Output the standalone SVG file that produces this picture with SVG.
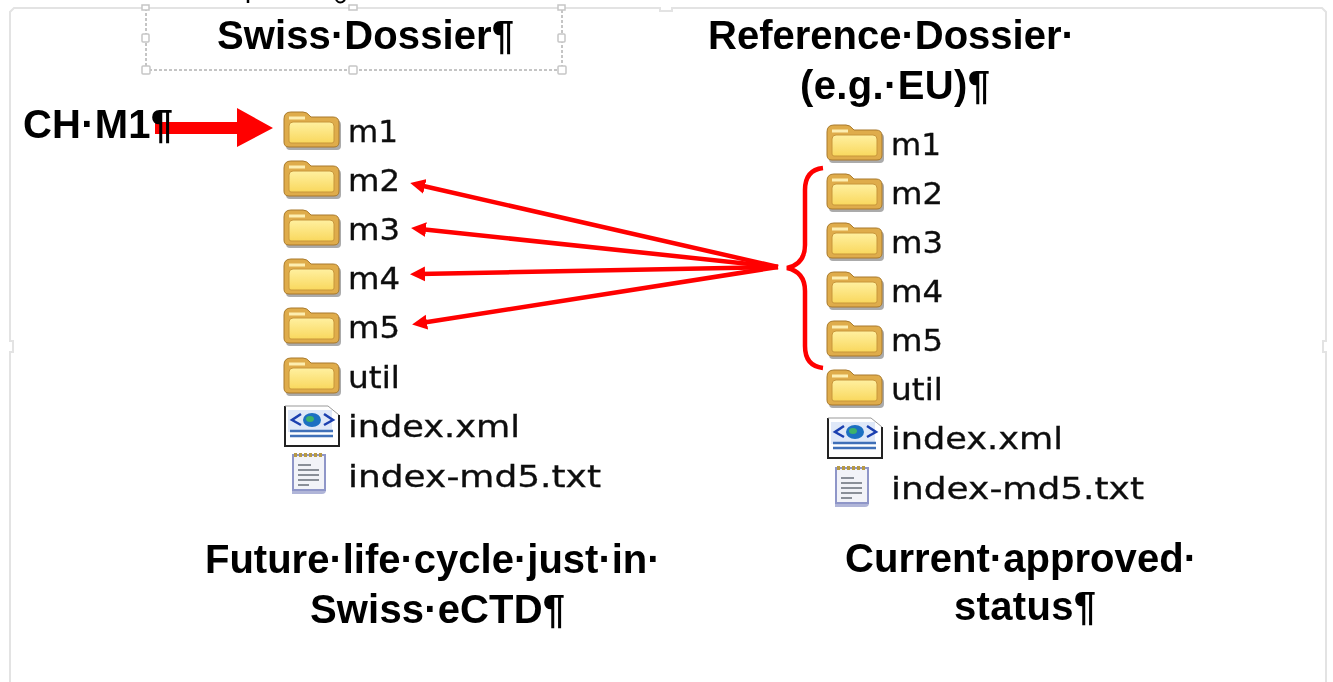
<svg xmlns="http://www.w3.org/2000/svg" width="1333" height="682" viewBox="0 0 1333 682">
<style>
.h{font-family:"Liberation Sans",Arial,sans-serif;font-weight:700;font-size:40px;fill:#000}
.f{font-family:"DejaVu Sans",Verdana,sans-serif;font-size:31px;fill:#111;stroke:#111;stroke-width:.35}
.frame{fill:none;stroke:#e3e3e3;stroke-width:2}
.dash{fill:none;stroke:#8a8a8a;stroke-width:1;stroke-dasharray:3 2}
.hd{fill:#fff;stroke:#c6c6c6;stroke-width:1.5}
.red{stroke:#f00;fill:none;stroke-width:4.5}
</style>
<defs>
<linearGradient id="fg" x1="0" y1="0" x2="0" y2="1"><stop offset="0" stop-color="#fff0a0"/><stop offset="1" stop-color="#f9d85e"/></linearGradient>
<filter id="soft" x="-5%" y="-5%" width="110%" height="110%"><feGaussianBlur stdDeviation="0.7"/></filter>
<filter id="softer" x="-5%" y="-5%" width="110%" height="110%"><feGaussianBlur stdDeviation="0.4"/></filter>
<marker id="ah" markerUnits="userSpaceOnUse" markerWidth="16" markerHeight="16" refX="6" refY="8" orient="auto"><path d="M0 0.5L15 8L0 15.5Z" fill="#f00" transform="translate(15 0) scale(-1 1) translate(0 0) scale(-1 1) translate(-15 0)"/></marker>
<symbol id="folder" overflow="visible">
<path d="M4 36Q0 36 0 32V6Q0 1 5 1H19Q23 1 26 5L27 6H50Q55 6 55 11V32Q55 36 51 36Z" fill="#444" opacity=".45" transform="translate(2 2)"/>
<path d="M5 35Q0 35 0 30V7Q0 0 7 0H19Q23 0 26 4L27 5H49Q55 5 55 11V30Q55 35 50 35Z" fill="#dfac4b" stroke="#a9792a" stroke-width="1"/>
<path d="M5 14Q5 10 9 10H46Q50 10 50 14V29Q50 31 48 31H7Q5 31 5 29Z" fill="url(#fg)" stroke="#c8963a" stroke-width="1"/>
<path d="M5 6H21" stroke="#fdeeb0" stroke-width="3" fill="none"/>
</symbol>
<symbol id="xml" overflow="visible">
<path d="M1 1H44L55 10V41H1Z" fill="#fff"/>
<path d="M1 1V41H55V10" fill="none" stroke="#222" stroke-width="2"/>
<path d="M1 1H44L55 10" fill="none" stroke="#999" stroke-width="1"/>
<rect x="4" y="5" width="44" height="22" fill="#dfe8f8"/>
<path d="M17 9L8 15L17 20M40 9L49 15L40 20" fill="none" stroke="#1a3fb0" stroke-width="2.5"/>
<ellipse cx="28" cy="15" rx="9" ry="7" fill="#1c6fc2"/>
<ellipse cx="26" cy="14" rx="4" ry="3" fill="#3cb26a"/>
<path d="M6 26H49M6 31H49" stroke="#3f6fb8" stroke-width="2.5"/>
</symbol>
<symbol id="txt" overflow="visible">
<path d="M4 4H38V37Q38 41 34 41H4Z" fill="#8f96c8" opacity=".7" transform="translate(1 1)"/>
<rect x="6" y="3" width="32" height="35" fill="#f2f3f8" stroke="#8f96c8" stroke-width="2"/>
<path d="M7 3H37" stroke="#b79a44" stroke-width="4" stroke-dasharray="3 2"/>
<path d="M11 13H24M11 18H32M11 23H32M11 28H32M11 33H22" stroke="#8a8f98" stroke-width="2"/>
</symbol>
</defs>

<g id="frame">
<path class="frame" d="M10 682V352H13V341H10V12L14 8H660V11H672V8H1322L1326 12V341H1323V352H1326V682"/>
<path d="M248 0V3" stroke="#000" stroke-width="2.5"/>
<path d="M336 0Q340 5 345 0" stroke="#000" stroke-width="2" fill="none"/>
</g>

<g id="selection">
<path class="dash" d="M146 8V70H562V8"/>
<rect class="hd" x="142" y="5" width="7" height="5"/>
<rect class="hd" x="349" y="5" width="8" height="5"/>
<rect class="hd" x="558" y="5" width="7" height="5"/>
<rect class="hd" x="142" y="34" width="7" height="8" rx="1"/>
<rect class="hd" x="558" y="34" width="7" height="8" rx="1"/>
<rect class="hd" x="142" y="66" width="8" height="8" rx="1"/>
<rect class="hd" x="349" y="66" width="8" height="8" rx="1"/>
<rect class="hd" x="558" y="66" width="8" height="8" rx="1"/>
</g>

<g id="connectors">
<path id="big-arrow" d="M155 122H237V108L273 128L237 147V134H155Z" fill="#f00"/>
<g filter="url(#softer)">
<path class="red" marker-end="url(#ah)" d="M778 267L419 185"/>
<path class="red" marker-end="url(#ah)" d="M778 267L420 229"/>
<path class="red" marker-end="url(#ah)" d="M778 267L419 274"/>
<path class="red" marker-end="url(#ah)" d="M778 267L421 323"/>
<path id="brace" class="red" d="M823 168Q805 170 805 190V245Q805 264 787 268Q805 272 805 291V346Q805 366 823 368"/>
</g>
</g>

<g filter="url(#softer)">
<g id="title-swiss"><text class="h" x="217" y="49" textLength="297">Swiss·Dossier¶</text></g>
<g id="title-reference">
<text class="h" x="708" y="49">Reference·Dossier·</text>
<text class="h" x="800" y="99" textLength="190">(e.g.·EU)¶</text>
</g>
<g id="label-ch-m1"><text class="h" x="23" y="138" textLength="150">CH·M1¶</text></g>
<g id="caption-future">
<text class="h" x="205" y="573">Future·life·cycle·just·in·</text>
<text class="h" x="310" y="623" textLength="255">Swiss·eCTD¶</text>
</g>
<g id="caption-current">
<text class="h" x="845" y="572" textLength="352">Current·approved·</text>
<text class="h" x="954" y="620" textLength="142">status¶</text>
</g>
</g>

<g id="tree-left" filter="url(#soft)">
<g id="l-m1"><use href="#folder" x="284" y="112"/><text class="f" x="348" y="142">m1</text></g>
<g id="l-m2"><use href="#folder" x="284" y="161"/><text class="f" x="348" y="191" textLength="52" lengthAdjust="spacingAndGlyphs">m2</text></g>
<g id="l-m3"><use href="#folder" x="284" y="210"/><text class="f" x="348" y="240" textLength="52" lengthAdjust="spacingAndGlyphs">m3</text></g>
<g id="l-m4"><use href="#folder" x="284" y="259"/><text class="f" x="348" y="289" textLength="52" lengthAdjust="spacingAndGlyphs">m4</text></g>
<g id="l-m5"><use href="#folder" x="284" y="308"/><text class="f" x="348" y="338" textLength="52" lengthAdjust="spacingAndGlyphs">m5</text></g>
<g id="l-util"><use href="#folder" x="284" y="358"/><text class="f" x="348" y="388" textLength="52" lengthAdjust="spacingAndGlyphs">util</text></g>
<g id="l-index-xml"><use href="#xml" x="284" y="405"/><text class="f" x="348" y="437" textLength="172" lengthAdjust="spacingAndGlyphs">index.xml</text></g>
<g id="l-index-md5"><use href="#txt" x="287" y="452"/><text class="f" x="348" y="487" textLength="253" lengthAdjust="spacingAndGlyphs">index-md5.txt</text></g>
</g>

<g id="tree-right" filter="url(#soft)">
<g id="r-m1"><use href="#folder" x="827" y="125"/><text class="f" x="891" y="155">m1</text></g>
<g id="r-m2"><use href="#folder" x="827" y="174"/><text class="f" x="891" y="204" textLength="52" lengthAdjust="spacingAndGlyphs">m2</text></g>
<g id="r-m3"><use href="#folder" x="827" y="223"/><text class="f" x="891" y="253" textLength="52" lengthAdjust="spacingAndGlyphs">m3</text></g>
<g id="r-m4"><use href="#folder" x="827" y="272"/><text class="f" x="891" y="302" textLength="52" lengthAdjust="spacingAndGlyphs">m4</text></g>
<g id="r-m5"><use href="#folder" x="827" y="321"/><text class="f" x="891" y="351" textLength="52" lengthAdjust="spacingAndGlyphs">m5</text></g>
<g id="r-util"><use href="#folder" x="827" y="370"/><text class="f" x="891" y="400" textLength="52" lengthAdjust="spacingAndGlyphs">util</text></g>
<g id="r-index-xml"><use href="#xml" x="827" y="417"/><text class="f" x="891" y="449" textLength="172" lengthAdjust="spacingAndGlyphs">index.xml</text></g>
<g id="r-index-md5"><use href="#txt" x="830" y="465"/><text class="f" x="891" y="499" textLength="253" lengthAdjust="spacingAndGlyphs">index-md5.txt</text></g>
</g>
</svg>
